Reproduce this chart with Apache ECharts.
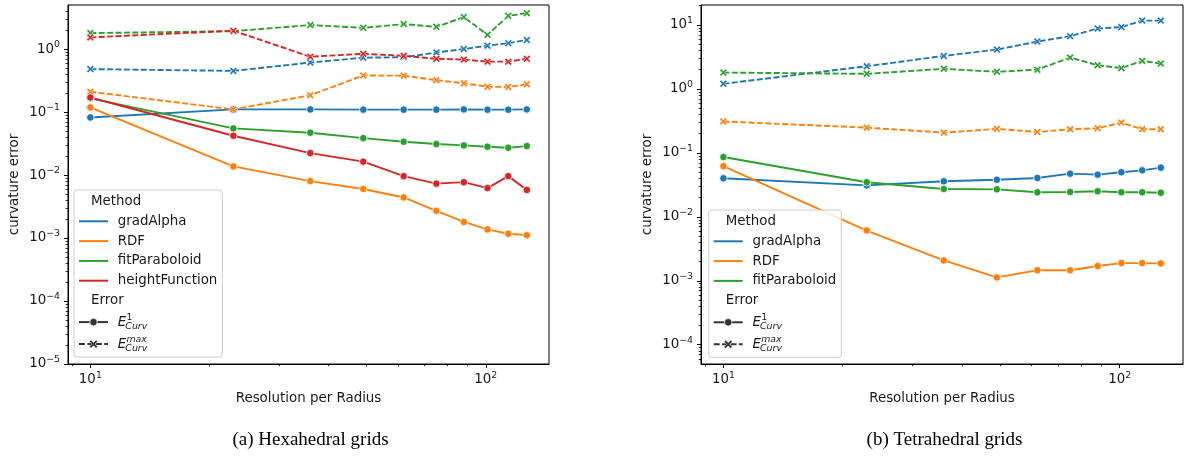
<!DOCTYPE html>
<html>
<head>
<meta charset="utf-8">
<script src="https://cdn.jsdelivr.net/npm/echarts@6/dist/echarts.min.js"></script>
<style>
  html, body { margin: 0; padding: 0; background: #fff; }
  #chart { width: 1184px; height: 460px; }
</style>
</head>
<body>
<div id="chart"></div>
<script>
// Resolution per radius, shared by both grid types
const resolution = [10, 23, 36, 49, 62, 75, 88, 101, 114, 127];

const methodsHex = ['gradAlpha', 'RDF', 'fitParaboloid', 'heightFunction'];
const methodsTet = ['gradAlpha', 'RDF', 'fitParaboloid'];

// Hexahedral grids: E1 (mean) curvature error
const hexGradAlphaE1   = [0.082, 0.110, 0.110, 0.109, 0.109, 0.109, 0.110, 0.109, 0.109, 0.110];
const hexRDFE1         = [0.118, 0.0137, 0.0080, 0.0060, 0.0044, 0.0027, 0.0018, 0.00137, 0.00117, 0.00111];
const hexFitE1         = [0.165, 0.055, 0.047, 0.0385, 0.0337, 0.031, 0.0295, 0.0281, 0.0271, 0.0288];
const hexHeightE1      = [0.170, 0.042, 0.0223, 0.0163, 0.0096, 0.0073, 0.0077, 0.0062, 0.0096, 0.0058];
// Hexahedral grids: maximum curvature error
const hexGradAlphaMax  = [0.48, 0.45, 0.61, 0.73, 0.74, 0.88, 1.00, 1.13, 1.24, 1.39];
const hexRDFMax        = [0.21, 0.11, 0.185, 0.38, 0.378, 0.32, 0.286, 0.253, 0.25, 0.275];
const hexFitMax        = [1.79, 1.92, 2.40, 2.17, 2.49, 2.25, 3.21, 1.68, 3.36, 3.71];
const hexHeightMax     = [1.53, 1.95, 0.755, 0.84, 0.78, 0.70, 0.68, 0.63, 0.63, 0.70];

// Tetrahedral grids: E1 (mean) curvature error
const tetGradAlphaE1   = [0.040, 0.031, 0.0359, 0.038, 0.0405, 0.0473, 0.0456, 0.0497, 0.0533, 0.0587];
const tetRDFE1         = [0.062, 0.0061, 0.00208, 0.00113, 0.00146, 0.00146, 0.0017, 0.00189, 0.00189, 0.00187];
const tetFitE1         = [0.086, 0.0347, 0.0272, 0.0269, 0.0242, 0.0245, 0.0251, 0.0242, 0.0242, 0.0238];
// Tetrahedral grids: maximum curvature error
const tetGradAlphaMax  = [1.20, 2.26, 3.28, 4.12, 5.5, 6.68, 8.79, 9.25, 11.7, 11.7];
const tetRDFMax        = [0.31, 0.248, 0.207, 0.237, 0.212, 0.234, 0.243, 0.297, 0.234, 0.234];
const tetFitMax        = [1.80, 1.72, 2.06, 1.85, 2.00, 3.09, 2.35, 2.11, 2.74, 2.49];

// Labelled tick positions
const xTicks = [10, 100];
const yTicksHex = [1e-5, 1e-4, 1e-3, 1e-2, 1e-1, 1];
const yTicksTet = [1e-4, 1e-3, 1e-2, 1e-1, 1, 10];

const xAxisTitle = 'Resolution per Radius';
const yAxisTitle = 'curvature error';
const legendTitles = ['Method', 'Error'];
const captions = ['(a) Hexahedral grids', '(b) Tetrahedral grids'];

// ---------------------------------------------------------------------------
const FONT = 'DejaVu Sans';
const FS = 13.4;
const INK = '#1a1a1a';
const COLORS = {
  gradAlpha: '#1f77b4',
  RDF: '#ff7f0e',
  fitParaboloid: '#2ca02c',
  heightFunction: '#d62728'
};
const X_MARK = 'path://M2,0 L5,3 L8,0 L10,2 L7,5 L10,8 L8,10 L5,7 L2,10 L0,8 L3,5 L0,2 Z';
const DASH = [6, 2.4];

const grids = [
  { left: 68, top: 5, width: 481, height: 359 },
  { left: 701, top: 5, width: 482, height: 359 }
];
const xRange = [8.78, 144.5];
const yRanges = [[1e-5, 5], [5e-5, 20.5]];

const hexE1 = [hexGradAlphaE1, hexRDFE1, hexFitE1, hexHeightE1];
const hexMax = [hexGradAlphaMax, hexRDFMax, hexFitMax, hexHeightMax];
const tetE1 = [tetGradAlphaE1, tetRDFE1, tetFitE1];
const tetMax = [tetGradAlphaMax, tetRDFMax, tetFitMax];

function pairs(values) {
  return resolution.map((r, i) => [r, values[i]]);
}

function panelSeries(idx, methods, e1, mx) {
  const out = [];
  methods.forEach((m, k) => {
    const c = COLORS[m];
    out.push({
      type: 'line', xAxisIndex: idx, yAxisIndex: idx, name: m + ' E1',
      data: pairs(e1[k]), symbol: 'circle', symbolSize: 7.5, showSymbol: true,
      lineStyle: { color: c, width: 1.9 },
      itemStyle: { color: c, borderColor: '#fff', borderWidth: 0.8 },
      silent: true, animation: false, z: 2
    });
    out.push({
      type: 'line', xAxisIndex: idx, yAxisIndex: idx, name: m + ' max',
      data: pairs(mx[k]), symbol: X_MARK, symbolSize: 7.5, showSymbol: true,
      lineStyle: { color: c, width: 1.9, type: DASH },
      itemStyle: { color: c, borderColor: '#fff', borderWidth: 0.6 },
      silent: true, animation: false, z: 2
    });
  });
  return out;
}

function powLabel(v) {
  const e = Math.round(Math.log10(v));
  if (Math.abs(Math.log10(v) - e) > 1e-6) return '';
  return '{b|10}{s|' + String(e).replace('-', '\u2212') + '}';
}

const rich = {
  b: { fontFamily: FONT, fontSize: FS, color: INK, lineHeight: 18 },
  s: { fontFamily: FONT, fontSize: 9.4, color: INK, lineHeight: 10, verticalAlign: 'top' }
};

function xAxisFor(idx) {
  return {
    gridIndex: idx, type: 'log', logBase: 10, min: xRange[0], max: xRange[1],
    name: xAxisTitle, nameLocation: 'middle', nameGap: 28.5,
    nameTextStyle: { fontFamily: FONT, fontSize: FS, color: INK },
    axisLine: { show: true, onZero: false, lineStyle: { color: '#000', width: 1 } },
    axisTick: { show: true, length: 4, lineStyle: { color: '#000', width: 1 }, customValues: xTicks },
    minorTick: { show: true, splitNumber: 9, length: 2.3, lineStyle: { color: '#000', width: 0.8 } },
    axisLabel: { customValues: xTicks, formatter: powLabel, rich: rich, margin: 7, fontFamily: FONT },
    splitLine: { show: false }, minorSplitLine: { show: false }
  };
}

function yAxisFor(idx, ticks) {
  return {
    gridIndex: idx, type: 'log', logBase: 10, min: yRanges[idx][0], max: yRanges[idx][1],
    name: yAxisTitle, nameLocation: 'middle', nameGap: 47,
    nameTextStyle: { fontFamily: FONT, fontSize: FS, color: INK },
    axisLine: { show: true, onZero: false, lineStyle: { color: '#000', width: 1 } },
    axisTick: { show: true, length: 4, lineStyle: { color: '#000', width: 1 }, customValues: ticks },
    minorTick: { show: true, splitNumber: 9, length: 2.3, lineStyle: { color: '#000', width: 0.8 } },
    axisLabel: { customValues: ticks, formatter: powLabel, rich: rich, margin: 8, fontFamily: FONT },
    splitLine: { show: false }, minorSplitLine: { show: false }
  };
}

// Two-part legend (hue = method, style = error kind) drawn as graphic elements
const measureCtx = document.createElement('canvas').getContext('2d');
function textWidth(t, size, style) {
  measureCtx.font = (style || '') + ' ' + size + 'px "' + FONT + '"';
  return measureCtx.measureText(t).width;
}

function xPolygon(cx, cy, r) {
  const u = r / 5;
  const pts = [[-3,-5],[0,-2],[3,-5],[5,-3],[2,0],[5,3],[3,5],[0,2],[-3,5],[-5,3],[-2,0],[-5,-3]];
  return pts.map(p => [cx + p[0] * u, cy + p[1] * u]);
}

function legendGraphic(bx, by, methods) {
  const els = [];
  const lineX0 = bx + 5, lineX1 = bx + 34, textX = bx + 43.7;
  const maxW = Math.max.apply(null, methods.map(m => textWidth(m, FS)));
  const w = 43.7 + maxW + 5;
  const row0 = by + 31.3, step = 19.8;
  const errY = row0 + step * methods.length;
  const e1Y = errY + 21.6, emY = errY + 43.6;
  const h = emY + 13 - by;
  const txt = (s, x, y, size, style) => ({
    type: 'text', z: 101, silent: true,
    style: { text: s, x: x, y: y, fontFamily: FONT, fontSize: size, fontStyle: style || 'normal',
             fill: INK, verticalAlign: 'middle', align: 'left' }
  });
  els.push({ type: 'rect', z: 100, silent: true,
    shape: { x: bx, y: by, width: w, height: h, r: 3 },
    style: { fill: 'rgba(255,255,255,0.85)', stroke: '#cccccc', lineWidth: 1 } });
  els.push(txt(legendTitles[0], bx + 17, by + 11.3, FS));
  methods.forEach((m, k) => {
    const y = row0 + step * k;
    els.push({ type: 'line', z: 101, silent: true,
      shape: { x1: lineX0, y1: y, x2: lineX1, y2: y },
      style: { stroke: COLORS[m], lineWidth: 2 } });
    els.push(txt(m, textX, y, FS));
  });
  els.push(txt(legendTitles[1], bx + 17, errY, FS));
  const gray = '#333333';
  const mid = (lineX0 + lineX1) / 2;
  // solid line + circle
  els.push({ type: 'line', z: 101, silent: true,
    shape: { x1: lineX0, y1: e1Y, x2: lineX1, y2: e1Y }, style: { stroke: gray, lineWidth: 2 } });
  els.push({ type: 'circle', z: 102, silent: true,
    shape: { cx: mid, cy: e1Y, r: 3.8 }, style: { fill: gray, stroke: '#fff', lineWidth: 0.8 } });
  // dashed line + cross
  els.push({ type: 'line', z: 101, silent: true,
    shape: { x1: lineX0, y1: emY, x2: lineX1, y2: emY }, style: { stroke: gray, lineWidth: 2, lineDash: DASH } });
  els.push({ type: 'polygon', z: 102, silent: true,
    shape: { points: xPolygon(mid, emY, 4.2) }, style: { fill: gray, stroke: '#fff', lineWidth: 0.6 } });
  // E with stacked super/subscripts
  const eW = textWidth('E', FS, 'italic');
  [[e1Y, '1'], [emY, 'max']].forEach(([y, sup]) => {
    els.push(txt('E', textX, y, FS, 'italic'));
    els.push(txt(sup, textX + eW + 0.3, y - 4.6, 9.4, sup === '1' ? 'normal' : 'italic'));
    els.push(txt('Curv', textX + eW - 0.8, y + 4.4, 9.4, 'italic'));
  });
  return els;
}

const chart = echarts.init(document.getElementById('chart'), null, { renderer: 'canvas' });

const graphic = []
  .concat(legendGraphic(74, 190, methodsHex))
  .concat(legendGraphic(708.7, 210, methodsTet))
  .concat(captions.map((c, i) => ({
    type: 'text', silent: true,
    style: { text: c, x: [310.5, 944.5][i], y: 440, fontFamily: 'Liberation Serif', fontSize: 19,
             fill: '#000', align: 'center', verticalAlign: 'middle' }
  })));

chart.setOption({
  animation: false,
  backgroundColor: '#ffffff',
  grid: grids.map(g => Object.assign({ show: true, borderColor: '#000', borderWidth: 1,
                                       backgroundColor: 'transparent', containLabel: false }, g)),
  xAxis: [xAxisFor(0), xAxisFor(1)],
  yAxis: [yAxisFor(0, yTicksHex), yAxisFor(1, yTicksTet)],
  series: panelSeries(0, methodsHex, hexE1, hexMax).concat(panelSeries(1, methodsTet, tetE1, tetMax)),
  graphic: graphic
});
</script>
</body>
</html>
